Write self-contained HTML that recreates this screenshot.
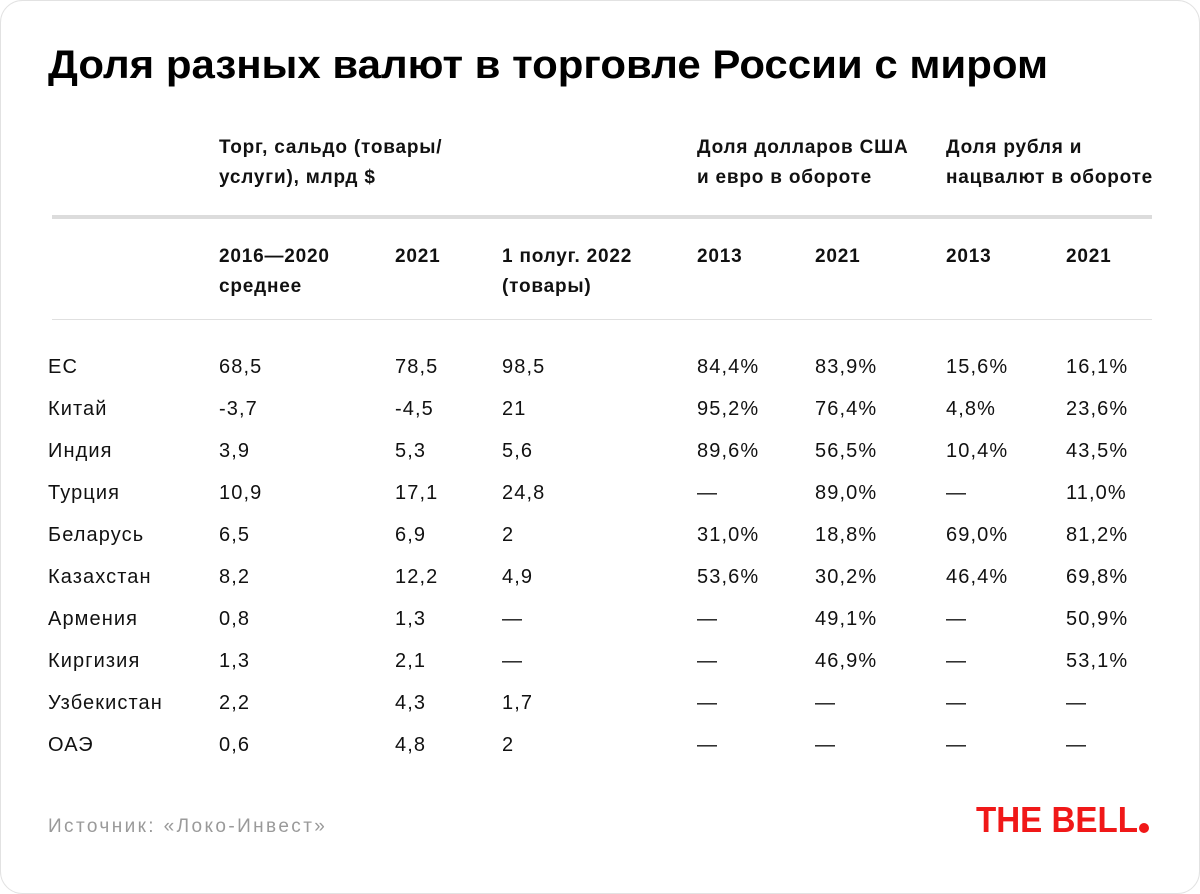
<!DOCTYPE html>
<html><head><meta charset="utf-8"><style>
html,body{margin:0;padding:0;background:#fff;}
svg{display:block;}
text{font-family:"Liberation Sans",sans-serif;}
.h{font-weight:bold;font-size:19px;fill:#111;letter-spacing:0.8px;}
.d{font-size:20px;fill:#111;letter-spacing:1.1px;}
</style></head><body>
<svg width="1200" height="894" viewBox="0 0 1200 894">
<rect x="0.5" y="0.5" width="1199" height="893" rx="22" fill="#fff" stroke="#e2e2e2"/>
<text x="48" y="78" font-size="40" font-weight="bold" fill="#000" textLength="1000" lengthAdjust="spacingAndGlyphs">Доля разных валют в торговле России с миром</text>
<g>
<text x="219" y="153" class="h">Торг, сальдо (товары/</text>
<text x="219" y="183" class="h">услуги), млрд $</text>
<text x="697" y="153" class="h">Доля долларов США</text>
<text x="697" y="183" class="h">и евро в обороте</text>
<text x="946" y="153" class="h">Доля рубля и</text>
<text x="946" y="183" class="h">нацвалют в обороте</text>
<text x="219" y="262" class="h">2016—2020</text>
<text x="219" y="292" class="h">среднее</text>
<text x="395" y="262" class="h">2021</text>
<text x="502" y="262" class="h">1 полуг. 2022</text>
<text x="502" y="292" class="h">(товары)</text>
<text x="697" y="262" class="h">2013</text>
<text x="815" y="262" class="h">2021</text>
<text x="946" y="262" class="h">2013</text>
<text x="1066" y="262" class="h">2021</text>
</g>
<rect x="52" y="215" width="1100" height="4" fill="#dcdcdc"/>
<rect x="52" y="319" width="1100" height="1" fill="#e0e0e0"/>
<g>
<text class="d" y="373"><tspan x="48">ЕС</tspan><tspan x="219">68,5</tspan><tspan x="395">78,5</tspan><tspan x="502">98,5</tspan><tspan x="697">84,4%</tspan><tspan x="815">83,9%</tspan><tspan x="946">15,6%</tspan><tspan x="1066">16,1%</tspan></text>
<text class="d" y="415"><tspan x="48">Китай</tspan><tspan x="219">-3,7</tspan><tspan x="395">-4,5</tspan><tspan x="502">21</tspan><tspan x="697">95,2%</tspan><tspan x="815">76,4%</tspan><tspan x="946">4,8%</tspan><tspan x="1066">23,6%</tspan></text>
<text class="d" y="457"><tspan x="48">Индия</tspan><tspan x="219">3,9</tspan><tspan x="395">5,3</tspan><tspan x="502">5,6</tspan><tspan x="697">89,6%</tspan><tspan x="815">56,5%</tspan><tspan x="946">10,4%</tspan><tspan x="1066">43,5%</tspan></text>
<text class="d" y="499"><tspan x="48">Турция</tspan><tspan x="219">10,9</tspan><tspan x="395">17,1</tspan><tspan x="502">24,8</tspan><tspan x="697">—</tspan><tspan x="815">89,0%</tspan><tspan x="946">—</tspan><tspan x="1066">11,0%</tspan></text>
<text class="d" y="541"><tspan x="48">Беларусь</tspan><tspan x="219">6,5</tspan><tspan x="395">6,9</tspan><tspan x="502">2</tspan><tspan x="697">31,0%</tspan><tspan x="815">18,8%</tspan><tspan x="946">69,0%</tspan><tspan x="1066">81,2%</tspan></text>
<text class="d" y="583"><tspan x="48">Казахстан</tspan><tspan x="219">8,2</tspan><tspan x="395">12,2</tspan><tspan x="502">4,9</tspan><tspan x="697">53,6%</tspan><tspan x="815">30,2%</tspan><tspan x="946">46,4%</tspan><tspan x="1066">69,8%</tspan></text>
<text class="d" y="625"><tspan x="48">Армения</tspan><tspan x="219">0,8</tspan><tspan x="395">1,3</tspan><tspan x="502">—</tspan><tspan x="697">—</tspan><tspan x="815">49,1%</tspan><tspan x="946">—</tspan><tspan x="1066">50,9%</tspan></text>
<text class="d" y="667"><tspan x="48">Киргизия</tspan><tspan x="219">1,3</tspan><tspan x="395">2,1</tspan><tspan x="502">—</tspan><tspan x="697">—</tspan><tspan x="815">46,9%</tspan><tspan x="946">—</tspan><tspan x="1066">53,1%</tspan></text>
<text class="d" y="709"><tspan x="48">Узбекистан</tspan><tspan x="219">2,2</tspan><tspan x="395">4,3</tspan><tspan x="502">1,7</tspan><tspan x="697">—</tspan><tspan x="815">—</tspan><tspan x="946">—</tspan><tspan x="1066">—</tspan></text>
<text class="d" y="751"><tspan x="48">ОАЭ</tspan><tspan x="219">0,6</tspan><tspan x="395">4,8</tspan><tspan x="502">2</tspan><tspan x="697">—</tspan><tspan x="815">—</tspan><tspan x="946">—</tspan><tspan x="1066">—</tspan></text>
</g>
<text x="48" y="832" font-size="19" fill="#9a9a9a" letter-spacing="2.4">Источник: «Локо-Инвест»</text>
<text x="976" y="832" font-size="36" font-weight="bold" fill="#f01818" textLength="162" lengthAdjust="spacingAndGlyphs">THE BELL</text>
<circle cx="1144" cy="828" r="5" fill="#f01818"/>
</svg>
</body></html>
